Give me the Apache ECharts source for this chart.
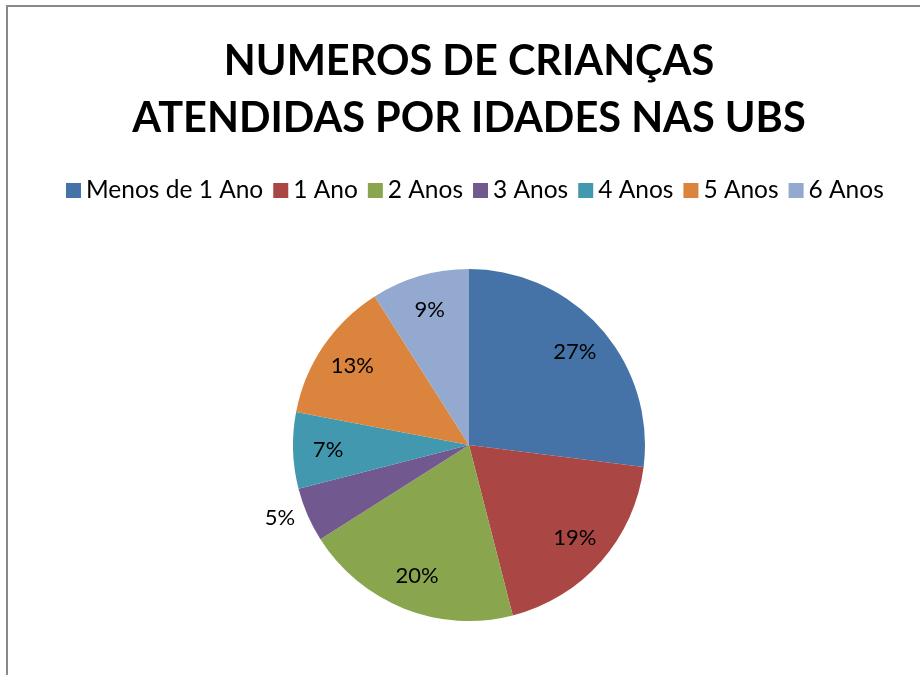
<!DOCTYPE html>
<html>
<head>
<meta charset="utf-8">
<script src="https://cdn.jsdelivr.net/npm/echarts@6/dist/echarts.min.js"></script>
<style>
html,body{margin:0;padding:0;background:#fff;overflow:hidden;}
#chart{width:938px;height:675px;}
</style>
</head>
<body>
<div id="chart"></div>
<script>
var categorias = ['Menos de 1 Ano', '1 Ano', '2 Anos', '3 Anos', '4 Anos', '5 Anos', '6 Anos'];
var valores = [27, 19, 20, 5, 7, 13, 9];
var cores = ['#4572A7', '#AA4643', '#89A54E', '#71588F', '#4198AF', '#DB843D', '#93A9CF'];
var fora = [3]; // fatias com rótulo do lado de fora

var fonte = 'Lato, "Open Sans", sans-serif';

var dadosPizza = [];
var dadosRotulo = [];
for (var i = 0; i < categorias.length; i++) {
    var externo = fora.indexOf(i) >= 0;
    dadosPizza.push({
        name: categorias[i],
        value: valores[i],
        label: { show: externo }
    });
    dadosRotulo.push({
        name: categorias[i],
        value: valores[i],
        label: { show: !externo }
    });
}

// div com 938px: o centro fica em 469, como na área do gráfico original
var chart = echarts.init(document.getElementById('chart'));
chart.setOption({
    color: cores,
    animation: false,
    title: {
        text: 'NUMEROS DE CRIANÇAS\nATENDIDAS POR IDADES NAS UBS',
        left: 'center',
        top: 28,
        textStyle: {
            fontFamily: fonte,
            fontSize: 41.5,
            fontWeight: 'bold',
            color: '#000',
            lineHeight: 57
        }
    },
    legend: {
        data: categorias,
        top: 173,
        left: 61,
        icon: 'rect',
        itemWidth: 15,
        itemHeight: 15,
        itemGap: 10,
        textStyle: { fontFamily: fonte, fontSize: 24.5, color: '#000' }
    },
    graphic: [{
        type: 'rect',
        silent: true,
        shape: { x: 7, y: 6, width: 960, height: 700 },
        style: { fill: 'none', stroke: '#888', lineWidth: 2 }
    }],
    series: [{
        type: 'pie',
        center: [469, 445],
        radius: 176,
        startAngle: 90,
        clockwise: true,
        legendHoverLink: false,
        itemStyle: { borderWidth: 0 },
        label: {
            position: 'outside',
            formatter: '{d}%',
            fontFamily: fonte,
            fontSize: 22,
            color: '#000'
        },
        labelLine: { show: false, length: 8, length2: 0 },
        data: dadosPizza
    }, {
        type: 'pie',
        center: [469, 445],
        radius: [100, 176],
        startAngle: 90,
        clockwise: true,
        silent: true,
        itemStyle: { color: 'rgba(0,0,0,0)' },
        label: {
            position: 'inside',
            formatter: '{d}%',
            fontFamily: fonte,
            fontSize: 22,
            color: '#000'
        },
        data: dadosRotulo
    }]
});
</script>
</body>
</html>
